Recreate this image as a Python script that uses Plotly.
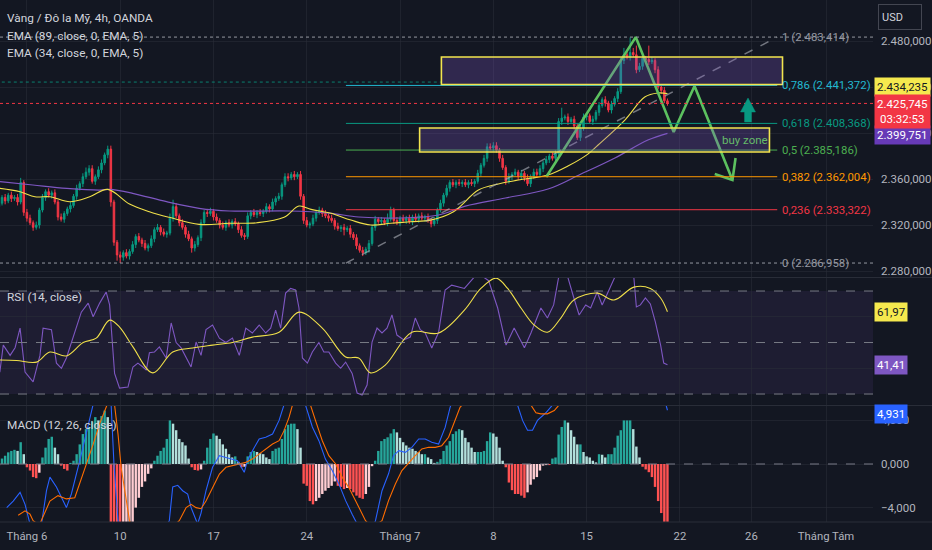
import plotly.graph_objects as go
from plotly.subplots import make_subplots

BG = '#131722'
GRID = 'rgba(42,46,57,0.55)'
TXT = '#d1d4dc'
AX = '#b2b5be'
UP = '#089981'
DN = '#f23645'
FONT = 'Roboto'

#---------------------------------------------------------------------------------------------------#
# 4h candles, bar index 0 = first bar of 3 June (one week = 30 bars)

first_open = 2336
close_pre = [2339, 2344, 2341, 2346, 2343, 2344, 2340, 2357, 2331]
close_jun03 = [2326, 2322, 2318, 2320, 2333, 2344, 2349, 2346, 2348, 2340,
               2327, 2325, 2330, 2334, 2337, 2345, 2352, 2356, 2362, 2366,
               2369, 2358, 2362, 2368, 2374, 2381, 2386, 2340, 2305, 2294]
close_jun10 = [2292, 2296, 2293, 2297, 2303, 2310, 2307, 2304, 2300, 2302,
               2308, 2316, 2318, 2314, 2312, 2313, 2326, 2336, 2328, 2322,
               2318, 2312, 2308, 2300, 2303, 2309, 2322, 2331, 2330, 2332]
close_jun17 = [2327, 2324, 2320, 2318, 2322, 2320, 2323, 2321, 2316, 2311,
               2310, 2328, 2331, 2329, 2331, 2330, 2332, 2336, 2334, 2340,
               2343, 2345, 2355, 2362, 2361, 2364, 2362, 2364, 2345, 2324]
close_jun24 = [2320, 2321, 2326, 2331, 2333, 2330, 2328, 2326, 2324, 2319,
               2317, 2318, 2316, 2317, 2312, 2309, 2302, 2298, 2296, 2299,
               2304, 2318, 2325, 2323, 2324, 2322, 2325, 2333, 2324, 2322]
close_jul01 = [2326, 2324, 2326, 2323, 2327, 2325, 2328, 2326, 2327, 2324,
               2321, 2324, 2333, 2339, 2346, 2352, 2357, 2355, 2357, 2356,
               2357, 2355, 2357, 2356, 2358, 2365, 2372, 2378, 2388, 2387]
close_jul08 = [2389, 2385, 2378, 2370, 2358, 2362, 2364, 2366, 2362, 2365,
               2361, 2356, 2362, 2366, 2364, 2369, 2374, 2377, 2380, 2378,
               2382, 2410, 2413, 2414, 2410, 2412, 2406, 2396, 2404, 2414]
close_jul15 = [2415, 2410, 2412, 2418, 2424, 2429, 2426, 2420, 2425, 2430,
               2436, 2463, 2468, 2466, 2470, 2468, 2455, 2458, 2465, 2464,
               2462, 2463, 2455, 2440, 2437, 2428, 2425.745]

# wick lengths above / below the body, in USD
wick_up_pre = [3, 2, 3, 2, 3, 2, 3, 4, 2]
wick_up_jun03 = [3, 3, 2, 3, 2, 3, 2, 3, 2, 3, 2, 3, 2, 2, 3, 2, 3, 2, 3, 4, 3, 3, 2, 3, 3, 2, 3, 3, 2, 2]
wick_up_jun10 = [3, 2, 3, 2, 3, 2, 3, 2, 3, 2, 3, 2, 3, 2, 3, 2, 4, 6, 3, 2, 3, 2, 3, 2, 3, 2, 3, 2, 3, 3]
wick_up_jun17 = [2, 3, 2, 3, 2, 3, 2, 3, 2, 3, 2, 3, 2, 3, 2, 3, 2, 3, 2, 3, 2, 3, 2, 3, 3, 2, 3, 2, 3, 2]
wick_up_jun24 = [3, 2, 3, 2, 3, 2, 3, 2, 3, 2, 3, 2, 3, 2, 3, 2, 3, 2, 3, 2, 3, 2, 3, 2, 3, 2, 5, 3, 2, 3]
wick_up_jul01 = [2, 3, 2, 3, 2, 3, 2, 3, 2, 3, 2, 3, 2, 3, 2, 3, 2, 3, 2, 3, 2, 3, 2, 3, 2, 3, 2, 3, 3, 3]
wick_up_jul08 = [3, 3, 2, 3, 2, 3, 2, 3, 2, 3, 2, 3, 2, 3, 3, 3, 2, 3, 2, 3, 3, 3, 9, 2, 3, 2, 3, 2, 3, 3]
wick_up_jul15 = [3, 2, 3, 2, 3, 2, 3, 2, 3, 2, 3, 3, 6, 4, 13, 4, 8, 3, 3, 2, 12, 3, 2, 3, 2, 3, 2]

wick_dn_pre = [3, 2, 3, 2, 3, 2, 3, 2, 3]
wick_dn_jun03 = [3, 2, 3, 2, 3, 2, 3, 2, 3, 2, 3, 2, 3, 2, 3, 2, 3, 2, 3, 2, 3, 2, 3, 2, 3, 2, 3, 4, 3, 5]
wick_dn_jun10 = [5, 3, 2, 3, 2, 3, 2, 3, 2, 3, 2, 3, 2, 3, 2, 3, 2, 3, 2, 3, 2, 3, 2, 4, 3, 2, 3, 2, 3, 2]
wick_dn_jun17 = [3, 2, 3, 2, 3, 2, 3, 2, 3, 2, 3, 2, 3, 2, 3, 2, 3, 2, 3, 2, 3, 2, 3, 2, 3, 2, 3, 2, 3, 3]
wick_dn_jun24 = [2, 3, 2, 3, 2, 3, 2, 3, 2, 3, 2, 3, 5, 2, 3, 2, 3, 2, 3, 2, 3, 2, 3, 2, 3, 2, 3, 2, 3, 2]
wick_dn_jul01 = [3, 2, 3, 2, 3, 2, 3, 2, 3, 2, 3, 2, 3, 2, 3, 2, 3, 2, 3, 2, 3, 2, 3, 2, 3, 2, 3, 2, 3, 2]
wick_dn_jul08 = [3, 2, 3, 2, 3, 2, 3, 2, 3, 2, 3, 2, 3, 2, 3, 2, 3, 2, 3, 2, 3, 2, 3, 2, 3, 2, 3, 2, 3, 2]
wick_dn_jul15 = [3, 2, 3, 2, 3, 2, 3, 2, 3, 2, 3, 2, 3, 2, 3, 2, 3, 2, 3, 2, 3, 2, 3, 2, 3, 2, 2]

# EMA lines (bar index, price)
ema89_idx = [-8.65, 1.9, 12.8, 23.4, 26.6, 34.0, 44.9, 55.4, 65.1, 84.3, 97.1, 106.7, 119.6,
             132.4, 141.0, 153.9, 167.6, 178.2, 189.1, 199.7, 206.0]
ema89_val = [2357.7, 2354.8, 2351.9, 2350.4, 2351.0, 2347.6, 2340.3, 2334.5, 2332.2, 2332.2,
             2330.4, 2327.0, 2326.1, 2328.7, 2336.5, 2343.5, 2351.3, 2364.3, 2378.3, 2393.9, 2399.751]
ema34_idx = [-8.65, -2.2, 2.6, 7.4, 13.8, 20.2, 26.0, 33.0, 39.4, 45.8, 55.4, 65.1, 74.0, 82.7,
             87.5, 91.4, 97.8, 104.2, 110.6, 117.0, 123.4, 129.8, 137.2, 145.2, 151.6, 158.0,
             167.6, 174.0, 180.4, 183.7, 192.3, 198.7, 202.9, 206.0]
ema34_val = [2351.9, 2349.0, 2344.6, 2344.6, 2340.3, 2344.6, 2351.0, 2338.3, 2331.6, 2326.7,
             2320.6, 2321.5, 2322.0, 2326.7, 2336.5, 2333.6, 2330.2, 2324.3, 2320.0, 2321.5,
             2322.9, 2324.3, 2331.6, 2350.4, 2355.7, 2359.1, 2363.5, 2371.3, 2381.7, 2389.6,
             2411.3, 2431.3, 2434.8, 2434.235]

# RSI (14) and its moving average
rsi_idx = [-8.7, -7.6, -5.4, -3.8, -2.2, -0.6, 2.0, 4.2, 5.2, 7.9, 9.5, 11.1, 12.7, 14.3, 15.9,
           17.5, 19.7, 21.3, 23.4, 25.5, 26.6, 28.2, 29.8, 32.5, 34.1, 35.7, 37.3, 38.4, 39.4,
           41.0, 42.6, 44.8, 46.4, 48.0, 49.6, 51.2, 52.8, 54.4, 56.0, 57.6, 59.7, 61.9, 64.0,
           66.1, 68.3, 70.4, 72.5, 74.7, 76.8, 78.4, 80.0, 81.6, 83.2, 84.8, 86.4, 87.5, 88.6,
           90.2, 91.8, 93.9, 95.5, 97.1, 99.3, 100.9, 102.5, 104.6, 106.2, 107.8, 109.4, 111.0,
           112.6, 114.2, 115.8, 117.4, 119.0, 121.2, 123.3, 124.9, 126.5, 128.1, 130.2, 132.4,
           134.5, 136.6, 138.8, 140.7, 145.0, 148.5, 151.4, 154.1, 156.7, 160.0, 162.1, 165.3,
           167.4, 169.4, 171.1, 173.8, 175.9, 177.6, 179.7, 181.3, 183.4, 185.0, 187.2, 189.3,
           192.0, 195.0, 196.0, 197.3, 198.9, 200.5, 202.1, 203.8, 204.8, 206.0]
rsi_val = [38.5, 49, 45, 48, 55.6, 38.5, 34.7, 45, 55.6, 55, 42, 40, 44, 50, 55.6, 61.8, 65.3,
           60, 65.3, 69.6, 64.6, 38, 32.3, 32.7, 40.5, 42, 40.5, 39.3, 46, 46.3, 48.3, 44, 57.6,
           50, 47.9, 44.4, 40.5, 50.2, 45, 55, 56.8, 51.7, 50, 51.7, 45, 55.6, 53.7, 56.8, 53.7,
           55.6, 62.6, 55.6, 69.2, 71, 70.4, 63.4, 44, 42, 46.3, 50, 46.3, 46.3, 42, 40, 42.4, 38,
           30.4, 29.6, 33.5, 50.2, 55.6, 53.7, 55.6, 60.7, 52.9, 51, 52.1, 59.5, 55, 53.7, 47.9,
           54, 70.4, 72.3, 71.5, 71, 77, 74, 63.4, 49, 55.6, 48, 53.7, 63.4, 59.5, 64.6, 76, 76,
           67.3, 60.7, 64.6, 63.4, 69.6, 64.6, 70.4, 76, 79, 78, 63.8, 64.6, 67.3, 65, 58, 49, 42,
           41.41]
rsima_idx = [-8.7, -3.3, 3.1, 7.4, 12.7, 18.1, 22.3, 26.6, 29.8, 34.1, 40.5, 46.9, 53.3, 59.7,
             66.1, 72.5, 81.1, 87.5, 95.0, 102.5, 106.7, 110.5, 115.3, 123.8, 132.4, 140.7,
             146.0, 150.9, 154.6, 158.9, 163.1, 167.4, 171.7, 175.9, 183.4, 188.8, 195.2, 200.5,
             203.8, 206.0]
rsima_val = [43.2, 43, 42.4, 46.3, 44.8, 50, 51.7, 58.7, 56, 48.3, 38.2, 46.3, 47.9, 49, 50,
             52.1, 54, 61.8, 55.6, 44.4, 44, 38.2, 41.3, 54, 53.7, 62.6, 71, 75, 71, 63.4, 56.8,
             54, 59.5, 66.5, 69.2, 66.5, 71.5, 71, 67.3, 61.97]

# MACD (12, 26) histogram per bar, plus MACD / signal lines
hist_pre = [-0.15, 0.5, 0.76, 1.07, 1.2, 1.3, 1.2, 2.0, 0.9]
hist_jun03 = [-0.3, -0.6, -1.2, -1.3, -0.8, 0.6, 1.5, 2.3, 2.5, 1.5, 0.9, -0.15, -0.45, -0.6, 0.1,
              0.3, 0.9, 1.8, 2.75, 3.2, 3.4, 3.9, 4.3, 4.0, 4.4, 4.9, 4.3, -5.6, -6.0, -7.0]
hist_jun10 = [-7.0, -6.5, -6.0, -5.5, -5.4, -4.0, -3.1, -2.1, -1.6, -0.9, -0.4, 0.3, 0.76, 1.2, 1.5,
              2.3, 4.0, 3.7, 3.1, 2.3, 2.0, 1.7, 0.5, -0.3, -0.55, -0.6, -0.5, 0.3, 1.5, 2.3]
hist_jun17 = [2.8, 2.6, 2.3, 1.8, 1.4, 0.9, 0.6, 0.7, 0.2, -0.3, -0.25, 0.7, 1.1, 1.2, 1.1, 1.0,
              0.9, 0.6, 0.45, 1.2, 1.4, 1.5, 2.3, 3.2, 3.6, 3.7, 3.7, 3.2, 1.5, -1.8]
hist_jun24 = [-2.0, -3.4, -3.7, -3.4, -3.1, -2.75, -2.45, -2.2, -2.0, -1.6, -2.0, -2.1, -2.3, -2.2,
              -2.3, -2.6, -2.9, -3.1, -3.2, -2.75, -2.1, -0.2, 0.3, 1.2, 2.1, 2.3, 2.45, 2.8, 3.2, 2.9]
hist_jul01 = [2.4, 2.0, 1.7, 1.5, 1.4, 1.2, 1.1, 0.9, 0.9, 0.6, 0.45, 0.1, 0.2, 0.45, 1.2, 1.7, 2.1,
              2.75, 3.0, 3.2, 3.1, 2.4, 2.0, 1.5, 1.1, 1.1, 1.1, 1.2, 2.1, 2.9]
hist_jul08 = [2.8, 2.5, 1.5, 0.3, -0.3, -1.7, -2.4, -2.75, -2.75, -2.9, -3.1, -2.6, -1.9, -1.4, -1.2,
              -0.6, -0.15, -0.1, -0.1, 0.5, 0.6, 2.7, 3.4, 4.0, 3.8, 3.1, 2.5, 1.8, 1.8, 1.1]
hist_jul15 = [0.7, 0.6, 0.3, 0.15, 0.9, 0.85, 0.6, 0.9, 0.9, 1.5, 2.6, 3.1, 4.0, 4.0, 4.0, 3.2, 1.6,
              0.6, -0.25, -0.5, -0.75, -1.2, -2.1, -3.4, -4.5, -5.6, -6.0]

macd_idx = [-6.5, -4.4, -2.2, -0.6, 1.0, 3.0, 4.7, 6.3, 7.4, 9.5, 12.7, 14.3, 17.0, 19.0, 21.0,
            23.0, 25.5, 27.0, 28.0, 29.3, 31.0, 35.0, 40.0, 44.0, 45.8, 46.9, 48.5, 50.1, 51.7,
            52.8, 54.9, 56.0, 57.6, 59.7, 61.9, 64.0, 66.1, 67.7, 69.9, 70.9, 72.5, 74.7, 76.8,
            79.0, 81.1, 82.7, 85.0, 88.0, 89.6, 91.8, 93.9, 96.0, 98.2, 100.3, 102.5, 104.6,
            105.7, 108.0, 110.0, 112.1, 114.2, 116.3, 117.9, 119.6, 121.7, 123.8, 126.0, 128.1,
            130.2, 132.4, 134.5, 136.1, 140.0, 145.0, 150.0, 155.0, 157.8, 159.4, 161.0, 162.6,
            164.2, 166.9, 169.0, 172.0, 180.0, 190.0, 196.0, 200.0, 204.0, 206.0]
macd_val = [-4.0, -3.4, -2.6, -3.7, -5.5, -6.5, -5.5, -2.45, -1.2, -2.1, -4.0, -2.75, 0.3, 2.75,
            5.5, 7.5, 9.0, 6.0, 0.0, -5.2, -8.0, -10.0, -8.0, -6.0, -5.2, -2.1, -1.95, -2.45,
            -2.75, -4.0, -5.5, -4.5, -2.45, -0.3, 0.76, 0.6, 0.45, 0.3, -0.76, 0.3, 1.2, 2.3,
            2.45, 2.75, 4.0, 5.3, 7.5, 8.5, 5.4, 3.4, 2.14, 0.45, -0.6, -1.8, -3.36, -4.6, -5.2,
            -6.5, -6.8, -5.2, -2.45, -0.9, 0.76, 1.22, 1.07, 1.53, 2.3, 2.3, 2.0, 1.83, 3.36, 5.2,
            8.0, 9.0, 9.5, 7.5, 5.4, 4.0, 3.1, 3.1, 4.0, 4.7, 5.4, 8.0, 10.0, 11.0, 12.0, 10.0,
            7.0, 4.931]
sig_idx = [-2.8, -0.6, 1.0, 2.0, 4.0, 7.4, 10.0, 12.7, 15.4, 17.0, 19.1, 21.3, 23.4, 25.5, 27.0,
           28.2, 29.3, 30.3, 31.9, 33.0, 36.0, 40.0, 44.0, 49.0, 51.2, 52.8, 54.4, 56.0, 57.6,
           59.7, 61.9, 64.0, 66.1, 68.3, 70.4, 72.5, 74.7, 76.8, 79.0, 81.1, 82.7, 84.3, 85.4,
           88.0, 91.2, 92.8, 95.0, 97.1, 99.3, 101.4, 103.5, 105.7, 107.8, 108.9, 111.0, 114.2,
           116.3, 118.5, 120.6, 122.8, 124.9, 127.0, 129.2, 131.3, 133.4, 135.6, 137.7, 139.3,
           145.0, 150.0, 155.0, 162.1, 163.7, 165.3, 167.4, 169.6, 171.1, 180.0, 190.0, 200.0, 206.0]
sig_val = [-4.7, -4.3, -4.6, -5.2, -5.6, -3.4, -2.9, -3.2, -3.1, -1.8, 0.0, 1.8, 3.7, 5.4, 6.3,
           5.4, 2.75, -0.3, -3.4, -5.2, -7.0, -7.5, -6.5, -5.2, -4.0, -3.7, -4.0, -4.1, -3.4,
           -2.14, -0.92, -0.3, -0.15, 0.0, 0.15, 0.45, 0.92, 1.38, 1.83, 2.14, 3.06, 4.28, 5.4,
           6.5, 5.4, 4.0, 2.14, 0.76, 0.0, -1.22, -2.14, -3.36, -4.6, -5.2, -5.8, -5.2, -3.36,
           -1.83, -0.6, 0.15, 0.76, 1.38, 1.53, 1.53, 1.68, 2.45, 4.0, 5.2, 7.0, 8.0, 7.0, 5.4,
           4.7, 4.6, 4.6, 4.9, 5.4, 8.0, 9.0, 10.5, 11.0]

# drawings on the price pane
fib_levels = [1, 0.786, 0.618, 0.5, 0.382, 0.236, 0]
fib_prices = [2483.414, 2441.372, 2408.368, 2385.186, 2362.004, 2333.322, 2286.958]
fib_colors = ['#9598a1', '#22b8d0', '#089981', '#4caf50', '#ff9800', '#f23645', '#9598a1']
fib_start, fib_end = 102.6, 241.3
zone_x = [(133.3, 243.0), (126.3, 238.8)]
zone_y = [(2442.2, 2466.1), (2383.5, 2404.3)]
zig_idx = [167.0, 195.8, 208.0, 214.7, 226.9, None, 227.9, 226.9, 221.2]
zig_val = [2361.7, 2483.4, 2400.9, 2440.9, 2359.1, None, 2378.3, 2359.1, 2364.3]
arrow_x = [229.5, 231.9, 234.3, 233.0, 233.0, 230.8, 230.8]
arrow_y = [2418.3, 2430.4, 2418.3, 2418.3, 2409.6, 2409.6, 2418.3]
ray_price = 2444.3

tick_idx = [0, 30, 60, 90, 120, 150, 180, 210, 233, 257]
tick_txt = ['Tháng 6', '10', '17', '24', 'Tháng 7', '8', '15', '22', '26', 'Tháng Tám']

#---------------------------------------------------------------------------------------------------#

def vn(v, d):
    s = f"{v:,.{d}f}"
    return s.replace(',', ' ').replace('.', ',').replace(' ', '.')

closes = close_pre + close_jun03 + close_jun10 + close_jun17 + close_jun24 + close_jul01 + close_jul08 + close_jul15
wick_up = wick_up_pre + wick_up_jun03 + wick_up_jun10 + wick_up_jun17 + wick_up_jun24 + wick_up_jul01 + wick_up_jul08 + wick_up_jul15
wick_dn = wick_dn_pre + wick_dn_jun03 + wick_dn_jun10 + wick_dn_jun17 + wick_dn_jun24 + wick_dn_jul01 + wick_dn_jul08 + wick_dn_jul15
hist = hist_pre + hist_jun03 + hist_jun10 + hist_jun17 + hist_jun24 + hist_jul01 + hist_jul08 + hist_jul15

bar_idx = list(range(-9, -9 + len(closes)))
opens = [first_open] + closes[:-1]
highs = [max(o, c) + w for o, c, w in zip(opens, closes, wick_up)]
lows = [min(o, c) - w for o, c, w in zip(opens, closes, wick_dn)]

hist_colors = []
prev = 0
for h in hist:
    if h >= 0:
        hist_colors.append('#26a69a' if h >= prev else '#b2dfdb')
    else:
        hist_colors.append('#ffcdd2' if h > prev else '#ff5252')
    prev = h

fig = make_subplots(rows=3, cols=1, shared_xaxes=True, vertical_spacing=0)

fig.add_trace(go.Candlestick(
    x=bar_idx, open=opens, high=highs, low=lows, close=closes,
    increasing=dict(line=dict(color=UP, width=1), fillcolor=UP),
    decreasing=dict(line=dict(color=DN, width=1), fillcolor=DN),
    whiskerwidth=0, hoverinfo='skip', showlegend=False), row=1, col=1)
fig.add_trace(go.Scatter(x=ema89_idx, y=ema89_val, mode='lines', line=dict(color='#7e57c2', width=1.2, shape='spline')), row=1, col=1)
fig.add_trace(go.Scatter(x=ema34_idx, y=ema34_val, mode='lines', line=dict(color='#f0e04a', width=1.1, shape='spline')), row=1, col=1)
fig.add_trace(go.Scatter(x=zig_idx, y=zig_val, mode='lines', connectgaps=False,
                         line=dict(color='#5cc15f', width=2.6)), row=1, col=1)

fig.add_trace(go.Scatter(x=rsi_idx, y=rsi_val, mode='lines', line=dict(color='#7e57c2', width=1.1)), row=2, col=1)
fig.add_trace(go.Scatter(x=rsima_idx, y=rsima_val, mode='lines', line=dict(color='#f0e04a', width=1.1, shape='spline')), row=2, col=1)

fig.add_trace(go.Bar(x=bar_idx, y=hist, marker=dict(color=hist_colors, line=dict(width=0))), row=3, col=1)
fig.add_trace(go.Scatter(x=macd_idx, y=macd_val, mode='lines', line=dict(color='#2962ff', width=1.1)), row=3, col=1)
fig.add_trace(go.Scatter(x=sig_idx, y=sig_val, mode='lines', line=dict(color='#ff6d00', width=1.1)), row=3, col=1)

# fib retracement
for lvl, p, col in zip(fib_levels, fib_prices, fib_colors):
    if lvl in (0, 1):
        fig.add_shape(type='line', xref='x domain', yref='y', x0=0, x1=1, y0=p, y1=p,
                      line=dict(color=col, width=1, dash='dot'))
    else:
        fig.add_shape(type='line', xref='x', yref='y', x0=fib_start, x1=fib_end, y0=p, y1=p,
                      line=dict(color=col, width=1))
    fig.add_annotation(xref='x', yref='y', x=fib_end, y=p, xanchor='left', yanchor='middle', xshift=3,
                       text=f"{lvl:g}".replace('.', ',') + f" ({vn(p, 3)})",
                       showarrow=False, font=dict(color=col, size=11.4))
fig.add_shape(type='line', xref='x', yref='y', x0=fib_start, x1=fib_end, y0=fib_prices[-1], y1=fib_prices[0],
              line=dict(color='rgba(178,181,190,0.6)', width=1.5, dash='dash'))
fig.add_shape(type='line', xref='x', yref='y', x0=bar_idx[0] - 1, x1=zone_x[0][0], y0=ray_price, y1=ray_price,
              line=dict(color='rgba(8,153,129,0.8)', width=1, dash='dot'))
fig.add_shape(type='line', xref='x domain', yref='y', x0=0, x1=1, y0=closes[-1], y1=closes[-1],
              line=dict(color=DN, width=1, dash='dot'))

for (x0, x1), (y0, y1) in zip(zone_x, zone_y):
    fig.add_shape(type='rect', xref='x', yref='y', x0=x0, x1=x1, y0=y0, y1=y1,
                  fillcolor='rgba(126,87,194,0.28)', line=dict(color='#f2e54e', width=1.6))
fig.add_annotation(xref='x', yref='y', x=231, y=2393.9, text='buy zone', showarrow=False,
                   font=dict(color='#66bb6a', size=11.5))
arrow_path = 'M ' + ' L '.join(f'{ax},{ay}' for ax, ay in zip(arrow_x, arrow_y)) + ' Z'
fig.add_shape(type='path', xref='x', yref='y', path=arrow_path, fillcolor='#089981',
              line=dict(color='#089981', width=0.5))

# RSI bands
fig.add_shape(type='rect', xref='x2 domain', yref='y2', x0=0, x1=1, y0=30, y1=70,
              fillcolor='rgba(126,87,194,0.1)', line=dict(width=0), layer='below')
for lv in (70, 50, 30):
    fig.add_shape(type='line', xref='x2 domain', yref='y2', x0=0, x1=1, y0=lv, y1=lv,
                  line=dict(color='#787b86', width=1, dash='dash'))
fig.add_shape(type='line', xref='x3 domain', yref='y3', x0=0, x1=1, y0=0, y1=0,
              line=dict(color='#787b86', width=1, dash='dash'))

# pane separators
for yp in (0.4684, 0.2232, 0.0):
    fig.add_shape(type='line', xref='paper', yref='paper', x0=0, x1=1.07, y0=yp, y1=yp,
                  line=dict(color='#2a2e39', width=1))

# legend texts
for txt, yp in [('Vàng / Đô la Mỹ, 4h, OANDA', 0.9655), ('EMA (89, close, 0, EMA, 5)', 0.931),
                ('EMA (34, close, 0, EMA, 5)', 0.8985), ('RSI (14, close)', 0.431),
                ('MACD (12, 26, close)', 0.1858)]:
    fig.add_annotation(xref='paper', yref='paper', x=0, y=yp, xanchor='left', yanchor='middle', xshift=5,
                       text=txt, showarrow=False, font=dict(color=TXT, size=11.8))

# right axis value labels
price_tags = [('y', ema34_val[-1], vn(ema34_val[-1], 3), '#f5e94e', '#131722', 7),
              ('y', ema89_val[-1], vn(ema89_val[-1], 3), '#673ab7', '#ffffff', -2),
              ('y2', rsima_val[-1], vn(rsima_val[-1], 2), '#f5e94e', '#131722', 0),
              ('y2', rsi_val[-1], vn(rsi_val[-1], 2), '#7e57c2', '#ffffff', 0),
              ('y3', macd_val[-1], vn(macd_val[-1], 3), '#2962ff', '#ffffff', -4)]
for yr, v, txt, bg, fc, sh in price_tags:
    fig.add_annotation(xref='paper', yref=yr, x=1, y=v, xanchor='left', yanchor='middle', xshift=1, yshift=sh,
                       text=txt, showarrow=False, bgcolor=bg, borderpad=2,
                       font=dict(color=fc, size=11.5))
fig.add_annotation(xref='paper', yref='y', x=1, y=closes[-1], xanchor='left', yanchor='top',
                   xshift=1, yshift=9, text=vn(closes[-1], 3) + '<br>03:32:53', showarrow=False,
                   bgcolor=DN, borderpad=2, font=dict(color='#ffffff', size=11.5))
fig.add_annotation(xref='paper', yref='paper', x=1, y=1, xanchor='left', yanchor='top',
                   xshift=5, yshift=-4, text='USD', showarrow=False, align='left', width=36, height=18,
                   bgcolor=BG, bordercolor='#434651', borderwidth=1, borderpad=3,
                   font=dict(color=TXT, size=11))

fig.update_xaxes(range=[-8.65, 272.1], tickvals=tick_idx, ticktext=tick_txt, showgrid=True,
                 gridcolor=GRID, zeroline=False, showline=False, ticks='', rangeslider_visible=False,
                 ticklabelstandoff=6, tickfont=dict(size=11.3, color=AX))
fig.update_layout(
    width=932, height=550, margin=dict(l=0, r=56, t=0, b=28),
    paper_bgcolor=BG, plot_bgcolor=BG, showlegend=False, separators=',.',
    font=dict(family=FONT, color=AX, size=12), bargap=0.22, hovermode=False,
    yaxis=dict(domain=[0.4693, 1], range=[2274.8, 2515.65], side='right',
               tickvals=[2280, 2320, 2360, 2400, 2440, 2480], tickformat=',.3f', gridcolor=GRID,
               zeroline=False, ticks='', ticklabelstandoff=7, tickfont=dict(size=11.5, color=AX)),
    yaxis2=dict(domain=[0.2241, 0.4674], range=[25.73, 75.05], side='right', tickvals=[40, 60],
                showticklabels=False, gridcolor=GRID, zeroline=False),
    yaxis3=dict(domain=[0, 0.2222], range=[-5.32, 5.32], side='right', tickvals=[-4, 0, 4],
                tickformat=',.3f', gridcolor=GRID, zeroline=False, ticks='', ticklabelstandoff=7,
                tickfont=dict(size=11.5, color=AX)),
)

fig.write_html("out.html", config={'displayModeBar': False, 'staticPlot': True},
               post_script="document.body.style.margin='0';document.body.style.overflow='hidden';document.body.style.background='#131722';")
